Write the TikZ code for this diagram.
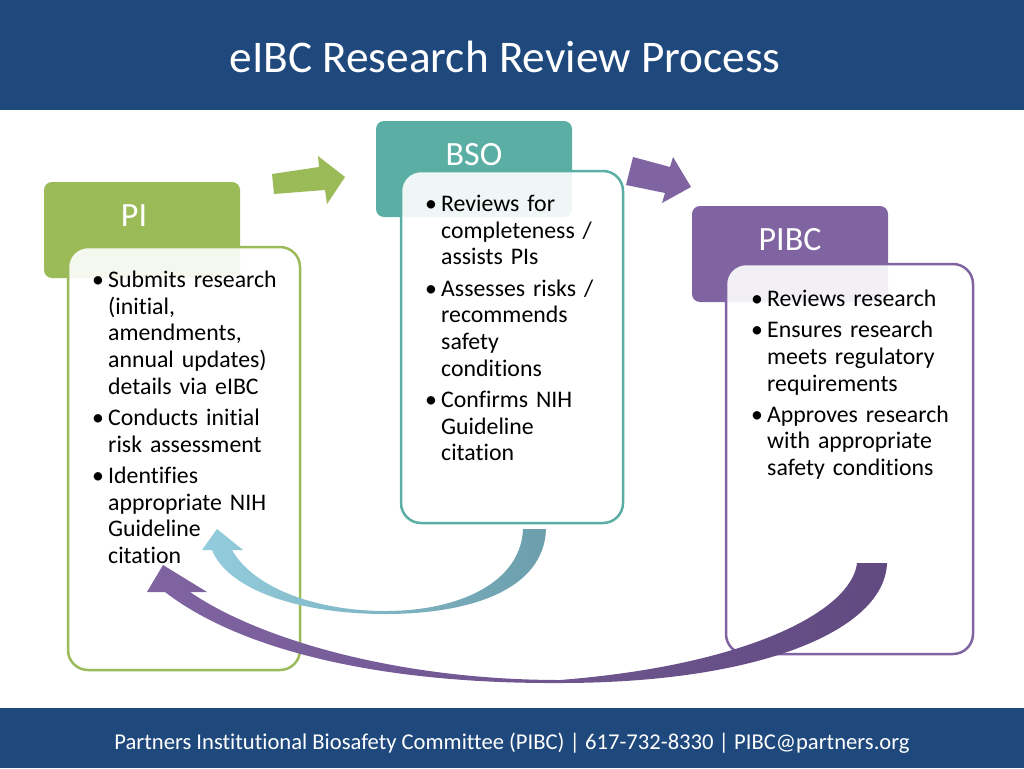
\documentclass[tikz,border=0pt]{standalone}
\usepackage{fontspec}
\setmainfont{Carlito}[Ligatures=NoCommon]

\definecolor{bandblue}{RGB}{31,73,125}
\definecolor{pigreen}{RGB}{155,187,89}
\definecolor{bsoteal}{RGB}{90,174,164}
\definecolor{pibcpurple}{RGB}{128,100,162}
\definecolor{backblue}{RGB}{147,205,221}
\definecolor{backteal}{RGB}{108,158,172}
\definecolor{backpurple}{RGB}{96,74,128}

\newcommand{\bul}{\par\hangindent=16pt\hangafter=1\noindent\makebox[16pt][l]{\textbullet}}

\tikzset{
	headbox/.style={rectangle, rounded corners=8pt, minimum width=196pt, minimum height=96pt, inner sep=0pt, fill=#1},
	bodybox/.style={rectangle, rounded corners=20pt, draw=#1, line width=2.5pt, fill=white, fill opacity=0.9, inner sep=0pt},
	headtext/.style={text=white, inner sep=0pt, font=\fontsize{34}{40}\selectfont},
	bodytext/.style={anchor=north west, inner sep=0pt, text width=#1, font=\fontsize{23.8}{26.7}\selectfont\setlength{\parskip}{4.5pt}\raggedright}
}

\begin{document}
\begin{tikzpicture}[x=1pt, y=-1pt]
		\useasboundingbox (0,0) rectangle (1024,768);
		\fill[bandblue] (0,0) rectangle (1024,110);
		\fill[bandblue] (0,708) rectangle (1024,768);
		\node[text=white, font=\fontsize{45.3}{52}\selectfont] (title) at (505,57) {eIBC Research Review Process};
		\node[text=white, font=\fontsize{22.6}{26}\selectfont] (footer) at (512,743) {Partners Institutional Biosafety Committee (PIBC) | 617-732-8330 | PIBC@partners.org};
		
		% boxes
		\node[headbox=pigreen] (pihead) at (142,230) {};
		\node[headbox=bsoteal] (bsohead) at (474,169) {};
		\node[headbox=pibcpurple] (pibchead) at (790,254) {};
		\node[headtext] (pilabel) at (134,216) {PI};
		\node[headtext] (bsolabel) at (474,155) {BSO};
		\node[headtext] (pibclabel) at (790,240) {PIBC};
		
		\node[bodybox=pigreen, minimum width=232pt, minimum height=423pt] (pibody) at (184,458.5) {};
		\node[bodybox=bsoteal, minimum width=222pt, minimum height=352pt] (bsobody) at (512,347) {};
		\node[bodybox=pibcpurple, minimum width=247pt, minimum height=390pt] (pibcbody) at (849.5,459) {};
		
		\node[bodytext=205pt] (pitext) at (92,256) {\bul Submits research\newline (initial,\newline amendments,\newline annual updates)\newline details via eIBC
			\bul Conducts initial\newline risk assessment
			\bul Identifies\newline appropriate NIH\newline Guideline\newline citation\par};
		\node[bodytext=195pt] (bsotext) at (425,180) {\bul Reviews for\newline completeness /\newline assists PIs
			\bul Assesses risks /\newline recommends\newline safety\newline conditions
			\bul Confirms NIH\newline Guideline\newline citation\par};
		\node[bodytext=215pt] (pibctext) at (751,275) {\bul Reviews research
			\bul Ensures research\newline meets regulatory\newline requirements
			\bul Approves research\newline with appropriate\newline safety conditions\par};
		
		% arrows
		\fill[pigreen] (272,174) -- (319,167) -- (318,156) -- (345,177) -- (327,204) -- (325,190) -- (274,194) -- cycle;
		\fill[pibcpurple] (633,157) -- (670,167) -- (673,157) -- (691,187) -- (662,203) -- (665,193) -- (626,185) -- cycle;
		\shade[left color=backblue, right color=backteal] (546,529) .. controls (544,590) and (470,614) .. (385,614)
			.. controls (300,614) and (228,590) .. (212,550) -- (202,550) -- (217,529) -- (243,550) -- (232,550)
			.. controls (255,590) and (320,611) .. (385,611) .. controls (460,611) and (521,582) .. (523,529) -- cycle;
		\shade[left color=pibcpurple, right color=backpurple] (887,563) .. controls (885,630) and (760,683) .. (560,683)
			.. controls (380,684) and (240,650) .. (165,592) -- (147,592) -- (163,565) -- (207,592) -- (190,592)
			.. controls (260,640) and (400,680) .. (560,680) .. controls (750,665) and (852,610) .. (857,563) -- cycle;
	\end{tikzpicture}
\end{document}
